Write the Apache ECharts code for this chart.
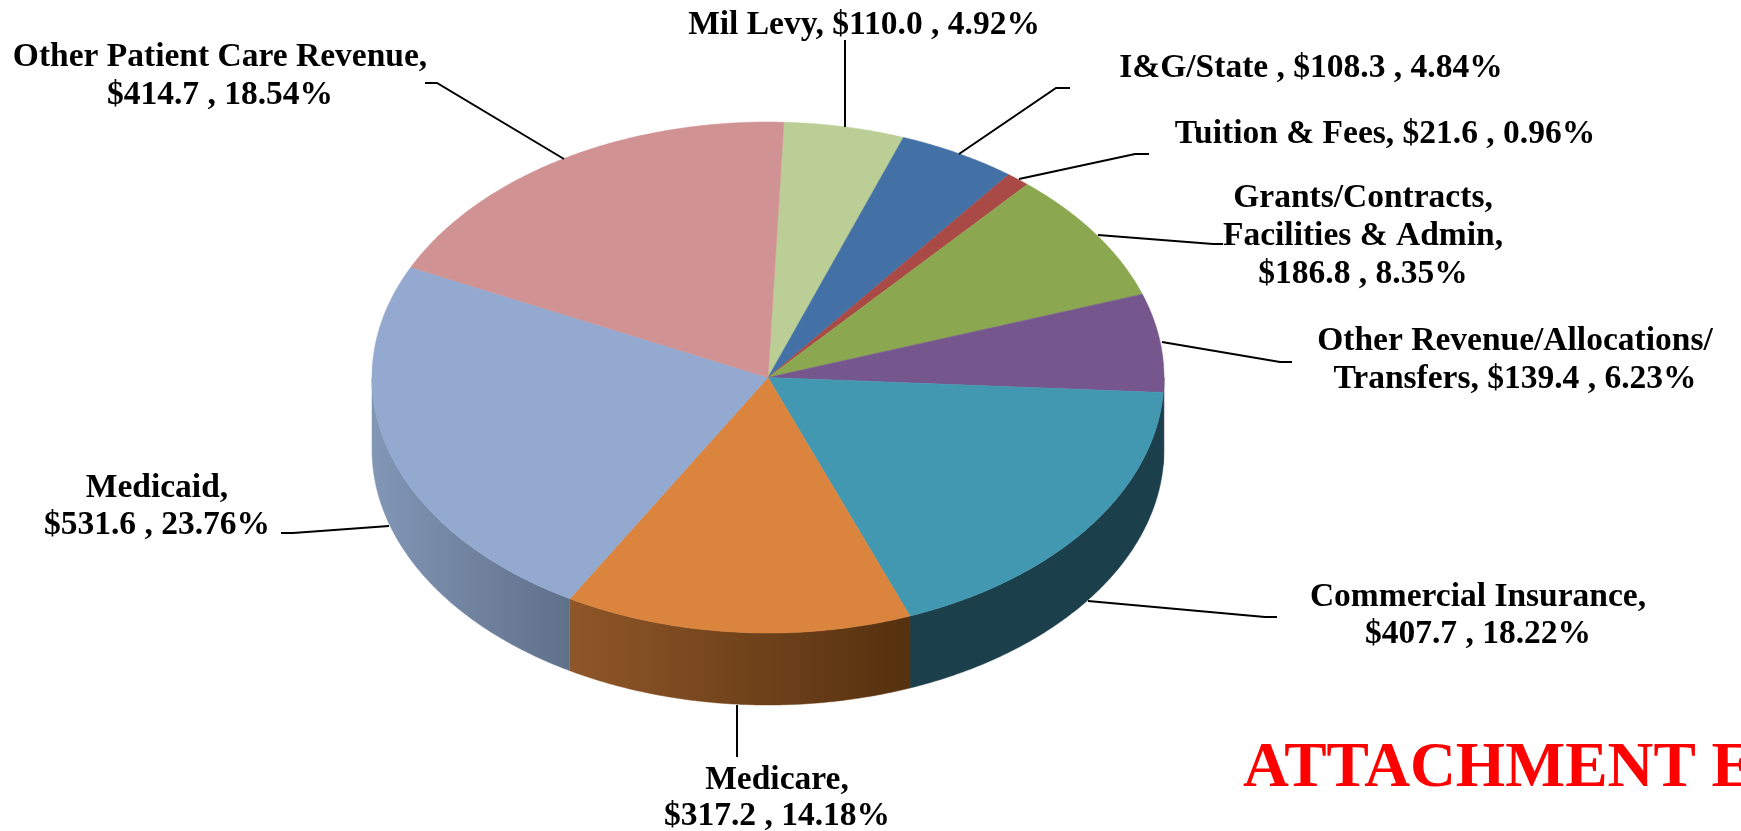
<!DOCTYPE html>
<html>
<head>
<meta charset="utf-8">
<title>Revenue pie</title>
<script src="https://cdn.jsdelivr.net/npm/echarts@6/dist/echarts.min.js"></script>
<style>
  html, body { margin: 0; padding: 0; background: #fff; overflow: hidden; }
  #main { width: 1741px; height: 831px; }
</style>
</head>
<body>
<div id="main"></div>
<script>
// clockwise from Mil Levy, $ amounts and shares as printed on the labels
const categories = ['Mil Levy', 'I&G/State ', 'Tuition & Fees', 'Grants/Contracts, Facilities & Admin', 'Other Revenue/Allocations/ Transfers', 'Commercial Insurance', 'Medicare', 'Medicaid', 'Other Patient Care Revenue']
const amounts = [110.0, 108.3, 21.6, 186.8, 139.4, 407.7, 317.2, 531.6, 414.7]
const shares = ['4.92', '4.84', '0.96', '8.35', '6.23', '18.22', '14.18', '23.76', '18.54']

const topColors = ['#BACE96', '#4371A6', '#A94A47', '#8BA74F', '#75578E', '#4298B1', '#DB843D', '#93A9CF', '#D09292']
const sideColors = [null, null, null, null, ['#3E2E4C', '#3E2E4C'], ['#1C3F4C', '#1C3F4C'], ['#8F5628', '#55310F'], ['#8296B6', '#5F7089'], null]

// pie geometry
const cx = 768, cy = 377.5, rx = 396, ry = 255.5, depth = 72
const startDeg = 2.3
const total = amounts.reduce((a, b) => a + b, 0)

// label placement, same order as categories
const labelFont = 'bold 33.5px "Liberation Serif"'
const labelLayout = [
  { x: 864, y: [25], split: [] },
  { x: 1311, y: [68], split: [] },
  { x: 1385, y: [134], split: [] },
  { x: 1363, y: [198, 236, 274], split: ['Grants/Contracts,', 'Facilities & Admin,'] },
  { x: 1515, y: [341, 379], split: ['Other Revenue/Allocations/', 'Transfers,'] },
  { x: 1478, y: [597, 634], split: ['Commercial Insurance,'] },
  { x: 777, y: [780, 816], split: ['Medicare,'] },
  { x: 157, y: [488, 525], split: ['Medicaid,'] },
  { x: 220, y: [57, 95], split: ['Other Patient Care Revenue,'] }
]
const leaderLines = [
  [[845, 40], [845, 127]],
  [[1070, 88], [1056, 88], [959, 154]],
  [[1149, 154], [1135, 154], [1019, 179]],
  [[1223, 244], [1213, 244], [1098, 235]],
  [[1292, 362], [1280, 362], [1162, 342]],
  [[1277, 617], [1265, 617], [1088, 601]],
  [[737, 705], [737, 757]],
  [[281, 533], [293, 533], [389, 526]],
  [[425, 83], [437, 83], [564, 159]]
]

function sliceAngles(i) {
  let before = 0
  for (let k = 0; k < i; k++) before += amounts[k]
  return [startDeg + before / total * 360, startDeg + (before + amounts[i]) / total * 360]
}
function rimPoint(deg, dy) {
  const a = deg * Math.PI / 180
  return [cx + rx * Math.sin(a), cy - ry * Math.cos(a) + (dy || 0)]
}
function arc(a0, a1, dy) {
  const pts = []
  const n = Math.max(2, Math.ceil((a1 - a0) * 2))
  for (let j = 0; j <= n; j++) pts.push(rimPoint(a0 + (a1 - a0) * j / n, dy))
  return pts
}

function renderSide(params) {
  const i = params.dataIndex
  const c = sideColors[i]
  const ang = sliceAngles(i)
  const a0 = Math.max(ang[0], 90), a1 = Math.min(ang[1], 270)
  if (!c || a1 <= a0) return
  const pts = arc(a0, a1, 0).concat(arc(a0, a1, depth).reverse())
  const fill = new echarts.graphic.LinearGradient(0, 0, 1, 0, [
    { offset: 0, color: c[0] }, { offset: 1, color: c[1] }
  ])
  return { type: 'polygon', shape: { points: pts }, style: { fill: fill, stroke: fill, lineWidth: 0.5 } }
}

function renderTop(params) {
  const i = params.dataIndex
  const ang = sliceAngles(i)
  const pts = [[cx, cy]].concat(arc(ang[0], ang[1], 0))
  return { type: 'polygon', shape: { points: pts }, style: { fill: topColors[i], stroke: topColors[i], lineWidth: 0.5 } }
}

function labelRows(i) {
  const tail = '$' + amounts[i].toFixed(1) + ' , ' + shares[i] + '%'
  const lay = labelLayout[i]
  if (lay.split.length === 0) return [categories[i].trim() + (categories[i].endsWith(' ') ? ' , ' : ', ') + tail]
  if (lay.split[lay.split.length - 1] === 'Transfers,') return [lay.split[0], 'Transfers, ' + tail]
  return lay.split.concat([tail])
}

function renderLabel(params) {
  const i = params.dataIndex
  const lay = labelLayout[i]
  const kids = [{
    type: 'polyline',
    shape: { points: leaderLines[i] },
    style: { fill: 'none', stroke: '#000', lineWidth: 2 }
  }]
  labelRows(i).forEach(function (row, k) {
    kids.push({
      type: 'text',
      style: { text: row, x: lay.x, y: lay.y[k], font: labelFont, fill: '#000', align: 'center', verticalAlign: 'middle' }
    })
  })
  return { type: 'group', children: kids }
}

const chart = echarts.init(document.getElementById('main'), null, { renderer: 'canvas' })
const seriesData = categories.map((name, i) => ({ name: name, value: amounts[i] }))
chart.setOption({
  backgroundColor: '#fff',
  animation: false,
  graphic: [{
    type: 'text',
    left: 1243,
    top: 738,
    style: { text: 'ATTACHMENT E', font: 'bold 63.5px "Liberation Serif"', fill: '#FF0000' }
  }],
  series: [
    { type: 'custom', coordinateSystem: 'none', renderItem: renderSide, data: seriesData, z: 1, silent: true },
    { type: 'custom', coordinateSystem: 'none', renderItem: renderTop, data: seriesData, z: 2, silent: true },
    { type: 'custom', coordinateSystem: 'none', renderItem: renderLabel, data: seriesData, z: 3, silent: true }
  ]
})
</script>
</body>
</html>
